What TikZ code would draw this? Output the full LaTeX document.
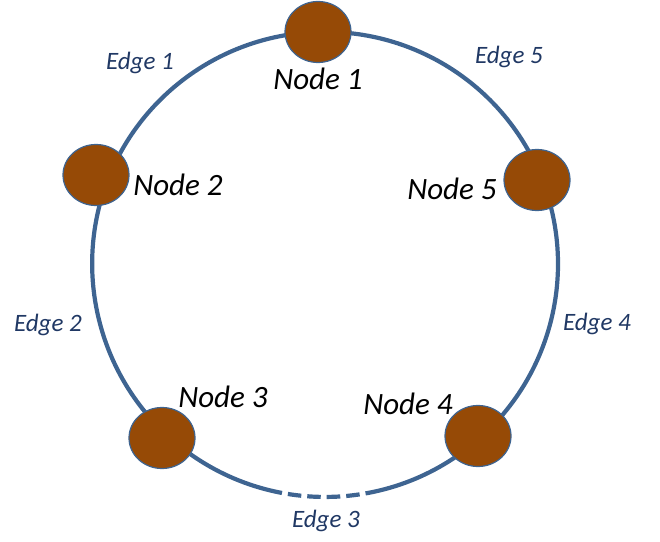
\documentclass[tikz,border=0pt]{standalone}
\usepackage{fontspec}
\setmainfont{Carlito}
\usetikzlibrary{positioning, shapes.geometric, backgrounds}
\definecolor{ringblue}{HTML}{3E6491}
\definecolor{edgeblue}{HTML}{203864}
\definecolor{nodebrown}{HTML}{964A06}

\begin{document}
\begin{tikzpicture}[
		x=1pt, y=1pt,
		vertex/.style={ellipse, draw=ringblue, line width=1.2pt, fill=nodebrown, minimum width=66pt, minimum height=61pt, inner sep=0pt},
		vlabel/.style={font=\fontsize{31}{36}\selectfont\itshape, inner sep=0pt},
		elabel/.style={text=edgeblue, font=\fontsize{25}{30}\selectfont\itshape, inner sep=0pt},
		ring/.style={draw=ringblue, line width=4.2pt}
		]
		\useasboundingbox (0,0) rectangle (660,541);
		
		% NODES (round the ring)
		\node[vertex] (n1) at (318,509) {};
		\node[vertex] (n2) at (96,366) {};
		\node[vertex] (n3) at (162,103) {};
		\node[vertex] (n4) at (478,105) {};
		\node[vertex] (n5) at (537,361) {};
		
		% NODE NAMES
		\node[vlabel] (t1) at (318,462) {Node 1};
		\node[vlabel] (t2) at (178,356) {Node 2};
		\node[vlabel] (t3) at (223,144) {Node 3};
		\node[vlabel] (t4) at (408,137) {Node 4};
		\node[vlabel] (t5) at (452,352) {Node 5};
		
		% RING EDGES (the ring runs a little off some node centres)
		\begin{scope}[on background layer]
			\draw[ring] (n1.center) to[bend right=33.5, looseness=0.93] ([shift={(11.8,-4.7)}]n2.center);
			\draw[ring] ([shift={(11.8,-4.7)}]n2.center) to[bend right=34, looseness=0.93] ([shift={(3.8,3.9)}]n3.center);
			\draw[ring, dash pattern=on 132pt off 6pt on 13.5pt off 6pt on 13.5pt off 6pt on 13.5pt off 6pt on 13.5pt off 6pt on 250pt]
				([shift={(3.8,3.9)}]n3.center) to[bend right=42.3, looseness=0.98] ([shift={(1.7,-2.2)}]n4.center);
			\draw[ring] ([shift={(1.7,-2.2)}]n4.center) to[bend right=35, looseness=0.94] ([shift={(4.6,1.8)}]n5.center);
			\draw[ring] ([shift={(4.6,1.8)}]n5.center) to[bend right=35, looseness=0.94] (n1.center);
		\end{scope}
		
		% EDGE NAMES
		\node[elabel] (e1) at (140,478) {Edge 1};
		\node[elabel] (e2) at (48,216) {Edge 2};
		\node[elabel] (e3) at (326,20) {Edge 3};
		\node[elabel] (e4) at (597,217) {Edge 4};
		\node[elabel] (e5) at (509,484) {Edge 5};
		
	\end{tikzpicture}
\end{document}
